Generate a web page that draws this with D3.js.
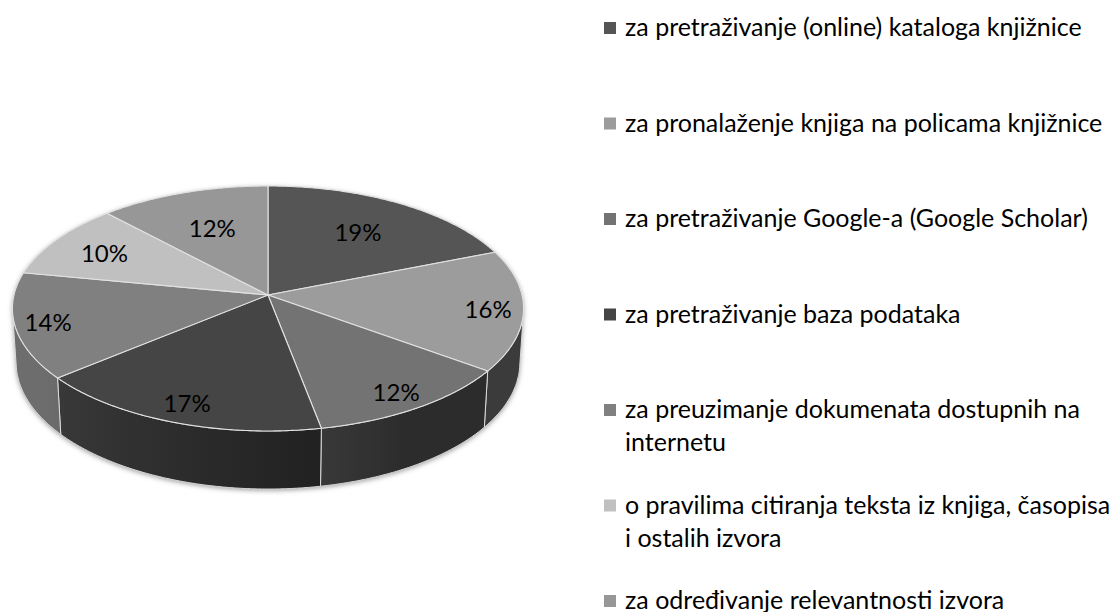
<!DOCTYPE html>
<html>
<head>
<meta charset="utf-8">
<script src="https://cdn.jsdelivr.net/npm/d3@7"></script>
<style>
  html, body { margin: 0; padding: 0; background: #ffffff; }
  svg { display: block; }
</style>
</head>
<body>
<svg id="chart" width="1111" height="612"></svg>
<script>
// Categories (legend entries), wrapped legend lines, shares in percent and slice fills
const categories = [
  "za pretraživanje (online) kataloga knjižnice",
  "za pronalaženje knjiga na policama knjižnice",
  "za pretraživanje Google-a (Google Scholar)",
  "za pretraživanje baza podataka",
  "za preuzimanje dokumenata dostupnih na internetu",
  "o pravilima citiranja teksta iz knjiga, časopisa i ostalih izvora",
  "za određivanje relevantnosti izvora"
];
const legendLines = [
  ["za pretraživanje (online) kataloga knjižnice"],
  ["za pronalaženje knjiga na policama knjižnice"],
  ["za pretraživanje Google-a (Google Scholar)"],
  ["za pretraživanje baza podataka"],
  ["za preuzimanje dokumenata dostupnih na", "internetu"],
  ["o pravilima citiranja teksta iz knjiga, časopisa", "i ostalih izvora"],
  ["za određivanje relevantnosti izvora"]
];
const values = [19, 16, 12, 17, 14, 10, 12];
const sliceColors = ["#555555", "#9c9c9c", "#737373", "#454545", "#808080", "#c0c0c0", "#979797"];

const FONT = "Lato, 'Open Sans', sans-serif";
const svg = d3.select("#chart");
const defs = svg.append("defs");

// Tilted disc seen in perspective: unit radius, thickness `depth`
const view = { cx: 268, cy: 295, kR: 254, sinP: 0.4764, cosP: 0.8794, rd: 0.1251, depth: 0.244 };
function project(theta, r, h) {
  const x = r * Math.sin(theta), z = -r * Math.cos(theta);
  const Y = h * view.cosP - z * view.sinP;
  const q = 1 - view.rd * (h * view.sinP + z * view.cosP);
  return [view.cx + view.kR * x / q, view.cy - view.kR * Y / q];
}
function rimPoints(a0, a1, h) {
  const n = Math.max(2, Math.ceil(Math.abs(a1 - a0) / (Math.PI / 360)));
  return d3.range(n + 1).map(i => project(a0 + (a1 - a0) * i / n, 1, h));
}

const pie = d3.pie().sort(null).value(d => d);
const arcs = pie(values);

// outer side is front-facing where cos(theta) < -R/(D cos phi)
const visLimit = Math.acos(-view.rd / view.cosP);
const vis0 = visLimit, vis1 = 2 * Math.PI - visLimit;
const H = -view.depth;

// side lighting: darker on the right, lit from the left
function shade(theta) {
  const deg = theta * 180 / Math.PI;
  const t = Math.max(0, Math.min(1, (deg - 150) / 85));
  return 0.38 + 0.47 * t;
}

const line = d3.line();

// soft outer shadow
const blur = defs.append("filter").attr("id", "soft").attr("x", "-10%").attr("y", "-10%")
  .attr("width", "120%").attr("height", "130%");
blur.append("feGaussianBlur").attr("stdDeviation", 2.6);

const outline = rimPoints(0, 2 * Math.PI, 0);
const sideOutline = rimPoints(vis0, vis1, 0).concat(rimPoints(vis1, vis0, H));
const shadowG = svg.append("g").attr("filter", "url(#soft)").attr("transform", "translate(0,1.5)");
shadowG.append("path").attr("d", line(outline) + "Z").attr("fill", "#9e9e9e");
shadowG.append("path").attr("d", line(sideOutline) + "Z").attr("fill", "#9e9e9e");

// sides
const sideG = svg.append("g");
arcs.forEach((d, i) => {
  const a = Math.max(d.startAngle, vis0), b = Math.min(d.endAngle, vis1);
  if (a >= b) return;
  const base = d3.rgb(sliceColors[i]);
  const gx0 = project(b, 1, 0)[0], gx1 = project(a, 1, 0)[0];
  const grad = defs.append("linearGradient").attr("id", "side" + i)
    .attr("gradientUnits", "userSpaceOnUse")
    .attr("x1", gx0).attr("x2", gx1).attr("y1", 0).attr("y2", 0);
  const steps = 12;
  d3.range(steps + 1).forEach(k => {
    const th = b - (b - a) * k / steps;
    const px = project(th, 1, 0)[0];
    const f = shade(th);
    const c = d3.rgb(base.r * f, base.g * f, base.b * f);
    grad.append("stop")
      .attr("offset", gx1 === gx0 ? 0 : (px - gx0) / (gx1 - gx0))
      .attr("stop-color", c.formatHex());
  });
  const pts = rimPoints(a, b, 0).concat(rimPoints(b, a, H));
  sideG.append("path").attr("d", line(pts) + "Z")
    .attr("fill", `url(#side${i})`)
    .attr("stroke", "#dadada").attr("stroke-width", 1).attr("stroke-linejoin", "round");
});

// top faces
const topG = svg.append("g");
const centre = project(0, 0, 0);
arcs.forEach((d, i) => {
  const pts = [centre].concat(rimPoints(d.startAngle, d.endAngle, 0));
  topG.append("path").attr("d", line(pts) + "Z")
    .attr("fill", sliceColors[i])
    .attr("stroke", "#e2e2e2").attr("stroke-width", 1.1).attr("stroke-linejoin", "round");
});

// percentage labels, pulled towards the rim on the sides and the near edge
const labelG = svg.append("g");
arcs.forEach((d, i) => {
  const mid = (d.startAngle + d.endAngle) / 2;
  const r = 0.73 - 0.12 * Math.cos(mid) + 0.12 * Math.pow(Math.sin(mid), 2);
  const [x, y] = project(mid, r, 0);
  labelG.append("text")
    .attr("x", x).attr("y", y)
    .attr("text-anchor", "middle").attr("dominant-baseline", "central")
    .attr("font-family", FONT).attr("font-size", 24).attr("fill", "#000")
    .text(d3.format(".0%")(d.data / d3.sum(values)));
});

// legend
const ly = d3.scalePoint().domain(categories).range([28, 601]);
const legend = svg.append("g");
categories.forEach((c, i) => {
  const y = ly(c);
  legend.append("rect").attr("x", 604).attr("y", y - 6).attr("width", 12).attr("height", 12)
    .attr("fill", sliceColors[i]);
  const t = legend.append("text")
    .attr("font-family", FONT).attr("font-size", 25).attr("fill", "#000");
  legendLines[i].forEach((ln, j) => {
    t.append("tspan").attr("x", 625).attr("y", y + 8 + j * 33).text(ln);
  });
});
</script>
</body>
</html>
